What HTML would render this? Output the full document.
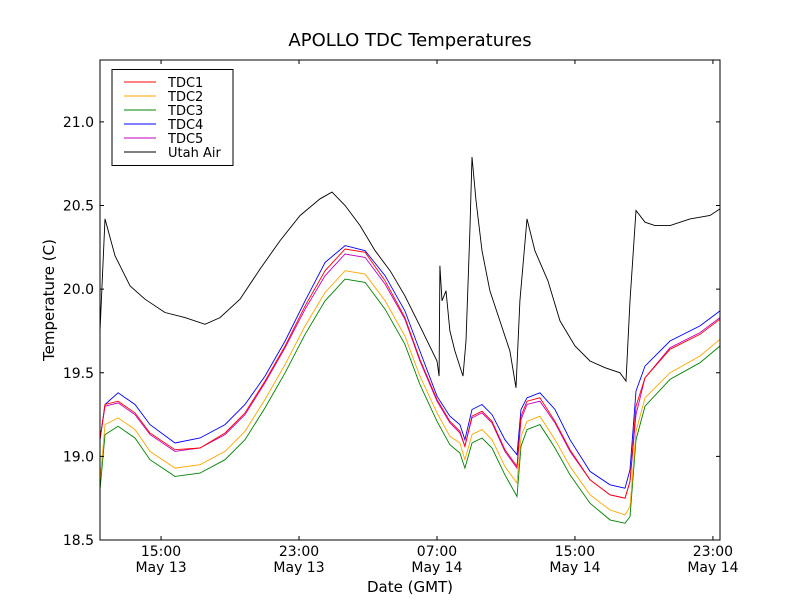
<!DOCTYPE html>
<html><head><meta charset="utf-8"><style>
body{margin:0;background:#fff;}
svg{font-family:"DejaVu Sans","Liberation Sans",sans-serif;}
</style></head><body>
<svg id="chart" width="800" height="600">
<rect width="800" height="600" fill="#fff"/>
<text x="410" y="46" text-anchor="middle" font-size="18">APOLLO TDC Temperatures</text>
<text x="410" y="592" text-anchor="middle" font-size="15">Date (GMT)</text>
<text x="54" y="300" text-anchor="middle" font-size="15" transform="rotate(-90 54 300)">Temperature (C)</text>
<g id="plot"></g>
<rect x="100" y="60" width="620" height="480" fill="none" stroke="#000" stroke-width="1"/>
<g id="legend"></g>
</svg>
<script>
const tdcHours=[11.46,11.75,12.51,13.49,14.36,15.81,17.26,18.71,19.87,21.03,22.19,23.35,24.51,25.67,26.83,27.99,29.14,30.01,31.00,31.75,32.33,32.62,33.03,33.61,34.19,34.94,35.64,35.87,36.22,36.97,37.84,38.71,39.87,41.03,41.90,42.19,42.54,43.06,44.51,46.25,47.41];
const tdc1=[19.10,19.31,19.33,19.26,19.14,19.04,19.05,19.14,19.26,19.45,19.66,19.90,20.11,20.24,20.22,20.05,19.83,19.58,19.34,19.21,19.15,19.06,19.24,19.27,19.21,19.04,18.94,19.24,19.33,19.35,19.21,19.04,18.86,18.77,18.75,18.85,19.30,19.47,19.64,19.73,19.82];
const tdc2=[18.85,19.19,19.23,19.16,19.03,18.93,18.95,19.03,19.15,19.34,19.55,19.78,19.98,20.11,20.09,19.93,19.72,19.48,19.26,19.12,19.08,18.98,19.13,19.16,19.10,18.94,18.84,19.12,19.21,19.24,19.10,18.94,18.77,18.68,18.65,18.70,19.15,19.35,19.50,19.60,19.70];
const tdc3=[18.80,19.13,19.18,19.11,18.98,18.88,18.90,18.98,19.10,19.29,19.50,19.73,19.93,20.06,20.04,19.88,19.67,19.43,19.21,19.07,19.02,18.93,19.08,19.11,19.05,18.89,18.76,19.06,19.16,19.19,19.05,18.89,18.72,18.62,18.60,18.64,19.10,19.30,19.46,19.56,19.66];
const tdc4=[19.10,19.31,19.38,19.31,19.19,19.08,19.11,19.19,19.31,19.48,19.69,19.93,20.16,20.26,20.23,20.08,19.87,19.63,19.36,19.24,19.19,19.10,19.28,19.31,19.25,19.10,19.01,19.28,19.35,19.38,19.28,19.10,18.91,18.83,18.81,18.92,19.39,19.54,19.69,19.78,19.87];
const tdc5=[19.10,19.30,19.32,19.25,19.13,19.03,19.05,19.13,19.25,19.44,19.65,19.88,20.08,20.21,20.19,20.03,19.82,19.57,19.33,19.20,19.14,19.06,19.23,19.26,19.20,19.03,18.93,19.22,19.31,19.33,19.20,19.03,18.86,18.77,18.75,18.85,19.25,19.47,19.65,19.74,19.83];
const airHours=[11.46,11.75,12.33,13.20,14.07,15.23,16.39,17.55,18.42,19.58,20.74,21.90,23.06,24.22,24.91,25.67,26.54,27.41,28.28,29.14,30.01,31.00,31.12,31.17,31.29,31.52,31.75,32.04,32.51,32.68,32.91,33.03,33.26,33.61,34.07,34.65,35.23,35.58,35.81,36.22,36.68,37.43,38.13,39.00,39.87,40.74,41.61,41.96,42.19,42.54,43.06,43.64,44.51,45.67,46.83,47.41];
const airTemps=[19.75,20.42,20.20,20.02,19.94,19.86,19.83,19.79,19.83,19.94,20.12,20.29,20.44,20.54,20.58,20.50,20.38,20.23,20.11,19.96,19.78,19.57,19.48,20.14,19.93,19.99,19.75,19.63,19.48,19.69,20.35,20.79,20.53,20.23,19.99,19.81,19.63,19.41,19.93,20.42,20.23,20.05,19.81,19.66,19.57,19.53,19.50,19.45,19.93,20.47,20.40,20.38,20.38,20.42,20.44,20.48];
const yTicks=[18.5,19.0,19.5,20.0,20.5,21.0];
const xTickHours=[15,23,31,39,47];
const xTickTimes=["15:00","23:00","07:00","15:00","23:00"];
const xTickDates=["May 13","May 13","May 14","May 14","May 14"];
const seriesNames=["TDC1","TDC2","TDC3","TDC4","TDC5","Utah Air"];
const seriesColors=["#ff0000","#ffa500","#008000","#0000ff","#bf00bf","#000000"];

const X0=100,X1=720,Y0=540,Y1=60,HMIN=11.46,HMAX=47.41,TMIN=18.5,TMAX=21.37;
const sx=h=>X0+(h-HMIN)/(HMAX-HMIN)*(X1-X0);
const sy=t=>Y0-(t-TMIN)/(TMAX-TMIN)*(Y0-Y1);
const NS="http://www.w3.org/2000/svg";
const plot=document.getElementById('plot');
const svg=document.getElementById('chart');
function mk(tag,attrs,parent){const e=document.createElementNS(NS,tag);for(const k in attrs)e.setAttribute(k,attrs[k]);parent.appendChild(e);return e;}
yTicks.forEach(t=>{const y=sy(t);
 const a=mk('line',{x1:X0,x2:X0+4,y1:y,y2:y,stroke:'#000'},svg);
 
 
 mk('line',{x1:X1-4,x2:X1,y1:y,y2:y,stroke:'#000'},svg);
 const l=mk('text',{x:X0-6,y:y+5,'text-anchor':'end','font-size':14},svg);l.textContent=t.toFixed(1);
 
 });
xTickHours.forEach((h,i)=>{const x=sx(h);
 const a=mk('line',{x1:x,x2:x,y1:Y0,y2:Y0-4,stroke:'#000'},svg);
 
 
 mk('line',{x1:x,x2:x,y1:Y1,y2:Y1+4,stroke:'#000'},svg);
 const l=mk('text',{x:x,y:556,'text-anchor':'middle','font-size':14},svg);l.textContent=xTickTimes[i];
 
 
 const d=mk('text',{x:x,y:572,'text-anchor':'middle','font-size':14},svg);d.textContent=xTickDates[i];
 
 });
function line(hs,ts,color,name){const p=mk('polyline',{points:hs.map((h,i)=>sx(h).toFixed(1)+','+sy(ts[i]).toFixed(1)).join(' '),fill:'none',stroke:color,'stroke-width':0.9},plot);
 
 }
line(airHours,airTemps,seriesColors[5],'utah-air-line');
line(tdcHours,tdc3,seriesColors[2],'tdc3-line');
line(tdcHours,tdc2,seriesColors[1],'tdc2-line');
line(tdcHours,tdc4,seriesColors[3],'tdc4-line');
line(tdcHours,tdc5,seriesColors[4],'tdc5-line');
line(tdcHours,tdc1,seriesColors[0],'tdc1-line');
const lg=document.getElementById('legend');
mk('rect',{x:112,y:69.5,width:121,height:96,fill:'#fff',stroke:'#000'},lg);
seriesNames.forEach((n,i)=>{const y=82+i*14;
 const s=mk('line',{x1:124,x2:156,y1:y,y2:y,stroke:seriesColors[i]},lg);
 
 
 const t=mk('text',{x:168,y:y+5,'font-size':13},lg);t.textContent=n;
 
 });
</script>
</body></html>
